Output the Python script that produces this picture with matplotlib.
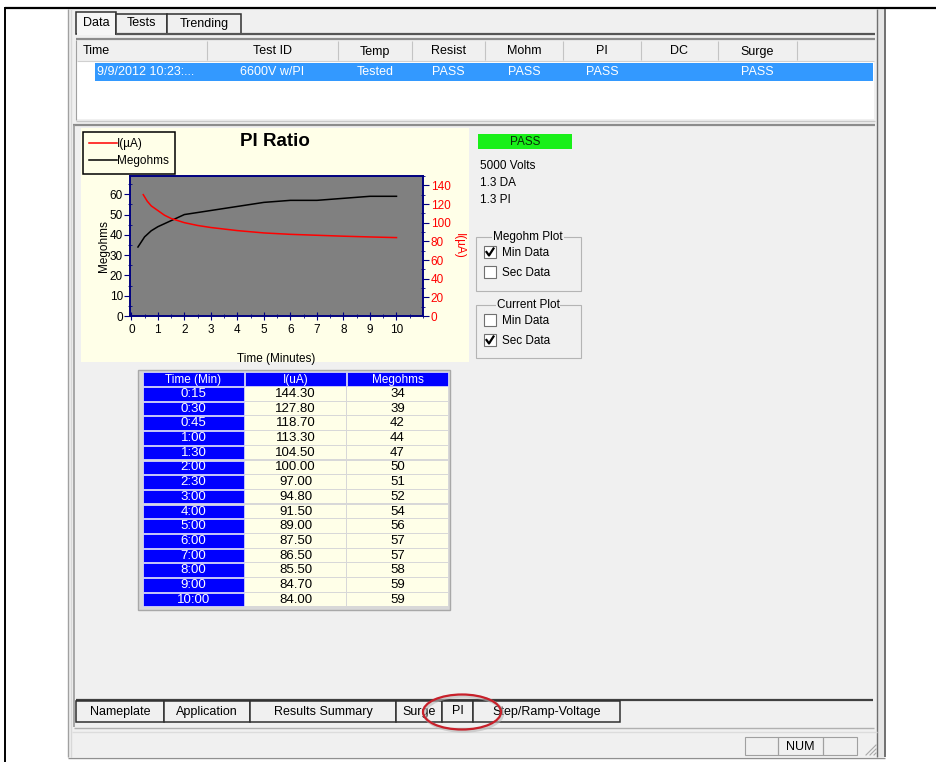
import numpy as np
import matplotlib.pyplot as plt
from matplotlib.patches import Rectangle, Ellipse
from matplotlib.ticker import MultipleLocator
from matplotlib import font_manager

W, H = 937, 762

# PI test table (minute data)
time_labels = ["0:15", "0:30", "0:45", "1:00", "1:30", "2:00", "2:30", "3:00",
               "4:00", "5:00", "6:00", "7:00", "8:00", "9:00", "10:00"]
time_min = [0.25, 0.5, 0.75, 1, 1.5, 2, 2.5, 3, 4, 5, 6, 7, 8, 9, 10]
current_ua = [144.30, 127.80, 118.70, 113.30, 104.50, 100.00, 97.00, 94.80,
              91.50, 89.00, 87.50, 86.50, 85.50, 84.70, 84.00]
megohms = [34, 39, 42, 44, 47, 50, 51, 52, 54, 56, 57, 57, 58, 59, 59]

# current curve as drawn on the chart (seconds data)
sec_time = [0.45, 0.6, 0.75, 1.0, 1.25, 1.5, 2.0, 2.5, 3.0, 4.0, 5.0, 6.0, 7.0, 8.0, 9.0, 10.0]
sec_current = [130, 123, 118, 113, 108, 104.5, 100, 97, 94.8, 91.5, 89, 87.5, 86.5, 85.5, 84.7, 84]

list_cols = ["Time", "Test ID", "Temp", "Resist", "Mohm", "PI", "DC", "Surge"]
list_row = ["9/9/2012 10:23:...", "6600V w/PI", "Tested", "PASS", "PASS", "PASS", "", "PASS"]
top_tabs = ["Data", "Tests", "Trending"]
bottom_tabs = ["Nameplate", "Application", "Results Summary", "Surge", "PI", "Step/Ramp-Voltage"]
info_lines = ["5000 Volts", "1.3 DA", "1.3 PI"]

names = {f.name for f in font_manager.fontManager.ttflist}
narrow = "Liberation Sans Narrow" if "Liberation Sans Narrow" in names else "Liberation Sans"
ui_size = 9.5 if narrow == "Liberation Sans Narrow" else 9
plt.rcParams["font.family"] = ["Liberation Sans", "DejaVu Sans"]

fig = plt.figure(figsize=(W / 100, H / 100), dpi=100, facecolor="white")
ui = fig.add_axes([0, 0, 1, 1])
ui.set_xlim(0, W)
ui.set_ylim(H, 0)
ui.axis("off")


def box(x0, y0, x1, y1, fc="none", ec="none", lw=0.8, z=1):
    ui.add_patch(Rectangle((x0, y0), x1 - x0, y1 - y0, facecolor=fc,
                           edgecolor=ec, linewidth=lw, zorder=z))


def line(xs, ys, color, lw=0.8, z=2):
    ui.plot(xs, ys, color=color, lw=lw, zorder=z, solid_capstyle="butt")


def txt(x, y, s, size=8.5, color="black", ha="left", family=None, z=5, **kw):
    ui.text(x, y, s, fontsize=size, color=color, ha=ha, va="center",
            family=family or ["Liberation Sans", "DejaVu Sans"], zorder=z, **kw)


# window frame
box(68, 9, 878, 757, fc="#f0f0f0")
line([5, W], [7.5, 7.5], "black", lw=1.6)
line([5, 5], [7, H], "black", lw=1.4)
line([68.5, 68.5], [9, 757], "#a0a0a0", lw=1)
line([71.5, 71.5], [9, 757], "#d8d8d8", lw=1)
box(878, 9, 885, 757, fc="#e6e6e6")
line([877.5, 877.5], [9, 757], "#707070", lw=1)
line([885, 885], [9, 757], "#707070", lw=1.4)
line([68, 885], [757.5, 757.5], "#909090", lw=1)

# top tabs
tab_x = [76, 116, 167, 241]
for i, name in enumerate(top_tabs):
    y0 = 12 if i == 0 else 14
    box(tab_x[i], y0, tab_x[i + 1], 33.5, fc="#f6f6f6" if i == 0 else "#f0f0f0",
        ec="#303030", lw=1.1, z=2)
    txt((tab_x[i] + tab_x[i + 1]) / 2, 23.5, name, size=ui_size, ha="center", family=narrow)
line([116, 875], [33.5, 33.5], "#555555", lw=1.6, z=3)
line([77, 115.5], [33.5, 33.5], "#f6f6f6", lw=1.6, z=3)

# list view
line([76, 875], [38.5, 38.5], "#8c8c8c", lw=1.6)
box(77, 40, 874, 60, fc="#f0f0f0")
col_edges = [76, 207, 338, 412, 485, 563, 641, 718, 797]
for xe in col_edges[1:]:
    line([xe, xe], [41, 60], "#c4c4c4", lw=0.8)
line([77, 874], [60.5, 60.5], "#d0d0d0", lw=0.8)
box(77, 61, 874, 119, fc="white")
line([76.5, 76.5], [40, 120], "#a0a0a0", lw=0.8)
box(95, 63, 873, 81, fc="#3399ff", z=2)
for i, name in enumerate(list_cols):
    cx = (col_edges[i] + col_edges[i + 1]) / 2
    if i == 0:
        txt(83, 51.5, name, size=ui_size, family=narrow)
        txt(97.5, 72, list_row[i], size=ui_size, color="white", family=narrow)
    else:
        txt(cx, 51.5, name, size=ui_size, ha="center", family=narrow)
        txt(cx, 72, list_row[i], size=ui_size, ha="center", color="white", family=narrow)
line([76, 875], [121, 121], "#c8c8c8", lw=1)
line([73, 875], [124.5, 124.5], "#8c8c8c", lw=1.6)

# lower panel border
line([74.5, 74.5], [125, 727], "#9a9a9a", lw=1.2)
line([74, 874], [727.5, 727.5], "#b0b0b0", lw=1)

# chart background and title
box(81, 128, 469, 362, fc="#ffffe8")
txt(275, 141.5, "PI Ratio", size=13.5, ha="center", weight="bold")

# chart axes
ax = fig.add_axes([130 / W, 1 - 316 / H, (423 - 130) / W, (316 - 176) / H], zorder=3)
ax.set_facecolor("#808080")
ax2 = ax.twinx()
l_meg, = ax.plot(time_min, megohms, color="black", lw=1.1)
l_cur, = ax2.plot(sec_time, sec_current, color="#ff0000", lw=1.1)
ax.set_xlim(-0.05, 11)
ax.set_ylim(0, 69)
ax2.set_ylim(0, 150)
ax.xaxis.set_major_locator(MultipleLocator(1))
ax.xaxis.set_minor_locator(MultipleLocator(0.5))
ax.yaxis.set_major_locator(MultipleLocator(10))
ax.yaxis.set_minor_locator(MultipleLocator(5))
ax2.yaxis.set_major_locator(MultipleLocator(20))
ax2.yaxis.set_minor_locator(MultipleLocator(10))
ax.set_xticks(range(0, 11))
for a in (ax, ax2):
    for sp in a.spines.values():
        sp.set_color("#000080")
        sp.set_linewidth(1.2)
ax.tick_params(axis="x", which="major", direction="inout", length=6, color="#000080",
               labelsize=8.5, pad=3)
ax.tick_params(axis="x", which="minor", direction="inout", length=3, color="#000080")
ax.tick_params(axis="y", which="major", direction="out", length=4, color="#000080",
               labelsize=8.5, pad=1)
ax.tick_params(axis="y", which="minor", direction="inout", length=3, color="#000080")
ax2.tick_params(axis="y", which="major", direction="out", length=4, color="#000080",
                labelsize=8.5, labelcolor="#ff0000", pad=1.5)
ax2.tick_params(axis="y", which="minor", direction="inout", length=3, color="#000080")
ax.set_xlabel("Time (Minutes)", fontsize=8.5, labelpad=12)
ax.set_ylabel("Megohms", fontsize=8.5, labelpad=0)
ax2.set_ylabel("I(µA)", fontsize=8.5, color="#ff0000", rotation=270, labelpad=10)

fig.legend([l_cur, l_meg], ["I(µA)", "Megohms"], loc="upper left",
           bbox_to_anchor=(83 / W, 1 - 131.5 / H), fontsize=8.5, frameon=True,
           fancybox=False, edgecolor="black", facecolor="#ffffe8", framealpha=1,
           handlelength=2.3, handletextpad=0.0, borderpad=0.55, labelspacing=0.45,
           borderaxespad=0).get_frame().set_linewidth(1.1)

# right side info
box(478, 134, 572, 149, fc="#19f019")
txt(525, 142, "PASS", size=8.5, ha="center", color="#0a2a0a")
for i, s in enumerate(info_lines):
    txt(480, 166 + i * 17, s, size=8.5)


def checkbox(x, y, label, checked):
    box(x, y - 6, x + 12, y + 6, fc="white", ec="#707070", lw=0.8, z=3)
    if checked:
        ui.plot([x + 2.5, x + 5, x + 9.5], [y, y + 3.5, y - 3.5], color="black",
                lw=1.6, zorder=4)
    txt(x + 18, y + 0.5, label, size=8.5)


groups = [("Megohm Plot", 237, 291, [True, False]), ("Current Plot", 305, 358, [False, True])]
for title, y0, y1, checks in groups:
    box(476, y0, 581, y1, ec="#b4b4b4", lw=0.8, z=2)
    txt(528, y0, title, size=8.5, ha="center",
        bbox=dict(facecolor="#f0f0f0", edgecolor="none", pad=0.6))
    checkbox(484, y0 + 15, "Min Data", checks[0])
    checkbox(484, y0 + 35, "Sec Data", checks[1])

# data table
box(138.5, 369.5, 450.5, 609.5, fc="#d8d8d8", ec="#a8a8a8", lw=1)
cols = [(143, 244), (245.5, 346), (347, 448)]
row_h = 14.7
headers = ["Time (Min)", "I(uA)", "Megohms"]
for j, (c0, c1) in enumerate(cols):
    box(c0, 372, c1, 386, fc="#0000ff", ec="#e8e8ff", lw=0.5, z=2)
    txt((c0 + c1) / 2, 379.5, headers[j], size=8.5, ha="center", color="white")
for i in range(len(time_labels)):
    y0 = 387 + i * row_h
    yc = y0 + 7
    vals = [time_labels[i], f"{current_ua[i]:.2f}", str(megohms[i])]
    for j, (c0, c1) in enumerate(cols):
        if j == 0:
            box(c0, y0, c1, y0 + row_h - 1.2, fc="#0000ff", ec="#e8e8ff", lw=0.5, z=2)
            txt((c0 + c1) / 2, yc, vals[j], size=9.5, ha="center", color="white")
        else:
            box(c0, y0, c1, y0 + row_h - 1.2, fc="#ffffe8", z=2)
            txt((c0 + c1) / 2, yc, vals[j], size=9.5, ha="center")

# bottom tabs
line([76, 873], [699.5, 699.5], "#404040", lw=1.6)
btab_x = [76, 164, 250, 396, 442, 473, 620]
for i, name in enumerate(bottom_tabs):
    box(btab_x[i], 700.5, btab_x[i + 1], 722, fc="#f0f0f0", ec="#303030", lw=1.1, z=2)
    txt((btab_x[i] + btab_x[i + 1]) / 2, 711.5, name, size=ui_size, ha="center", family=narrow)
ui.add_patch(Ellipse((463.5, 713.5), 78, 35, facecolor="none", edgecolor="#b8b8b8",
                     lw=2.5, alpha=0.6, zorder=6))
ui.add_patch(Ellipse((462, 712), 78, 35, facecolor="none", edgecolor="#c8202a",
                     lw=1.6, zorder=7))

# status bar
line([72, 877], [731.5, 731.5], "#dcdcdc", lw=1)
for x0, x1, s in [(745, 778, ""), (778, 823, "NUM"), (823, 857, "")]:
    box(x0, 737, x1, 755, ec="#a0a0a0", lw=0.8, z=2)
    if s:
        txt((x0 + x1) / 2, 746.5, s, size=ui_size, ha="center", family=narrow)
for k in range(3):
    d = 4 * k
    ui.plot([866 + d, 876], [755, 745 + d], color="#a8a8a8", lw=0.8, zorder=3)

fig.savefig("out.png", dpi=100, facecolor="white")
